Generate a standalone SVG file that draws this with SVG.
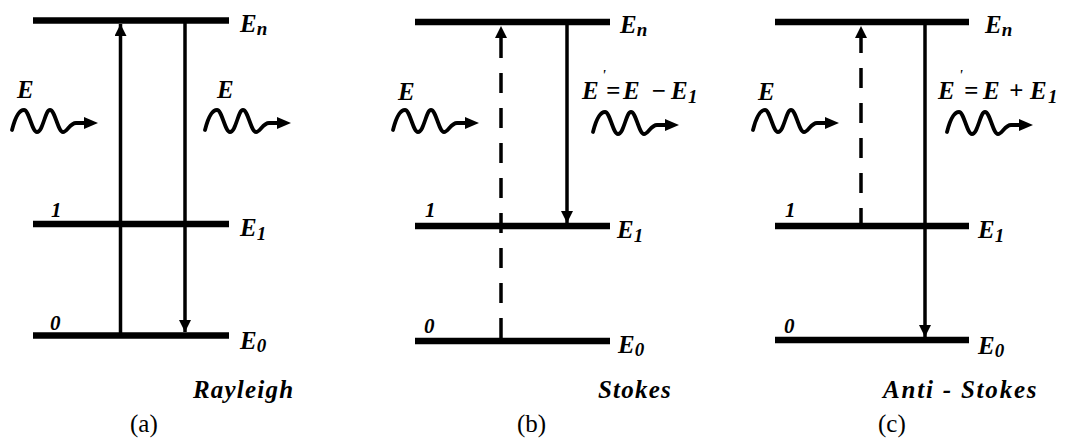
<svg xmlns="http://www.w3.org/2000/svg" width="1066" height="441" viewBox="0 0 1066 441">
<style>
.lvl{stroke:#000;stroke-width:6.5;fill:none}
.tr{stroke:#000;stroke-width:3.5;fill:none}
.dash{stroke-dasharray:20 15}
.wv{stroke:#000;stroke-width:3.8;fill:none;stroke-linecap:round}
.bi{font-family:"Liberation Serif","Times New Roman",serif;font-weight:bold;font-style:italic;font-size:25px;fill:#000}
.sub{font-size:19px}
.num{font-family:"Liberation Serif","Times New Roman",serif;font-weight:bold;font-style:italic;font-size:21px;fill:#000}
.cap{font-family:"Liberation Serif","Times New Roman",serif;font-size:25px;fill:#000}
</style>
<defs>
<marker id="ah" markerUnits="userSpaceOnUse" markerWidth="14" markerHeight="14" refX="12" refY="6" orient="auto">
<path d="M0,0 L12,6 L0,12 Z" fill="#000"/>
</marker>
<g id="wave">
<path class="wv" d="M0,7 C3,-5 7,-13 12,-13 C17,-13 20,9 25,9 C31,9 33,-13 38,-13 C43,-13 46,9 51,9 C55,9 58,0 64,0 L76,0"/>
<path d="M72,-6 L86,0 L72,6 Z" fill="#000"/>
</g>
</defs>
<rect width="1066" height="441" fill="#fff"/>

<g id="panel-a">
<g id="a-levels">
<line class="lvl" x1="33" y1="20.5" x2="229" y2="20.5"/>
<line class="lvl" x1="33" y1="224" x2="229" y2="224"/>
<line class="lvl" x1="33" y1="335.5" x2="229" y2="335.5"/>
</g>
<text class="bi" x="240" y="32">E<tspan class="sub" dy="3">n</tspan></text>
<text class="bi" x="240" y="236">E<tspan class="sub" dy="4">1</tspan></text>
<text class="bi" x="240" y="349">E<tspan class="sub" dy="3">0</tspan></text>
<text class="num" x="51" y="217">1</text>
<text class="num" x="50" y="330">0</text>
<text class="bi" x="17" y="98">E</text>
<text class="bi" x="217" y="98">E</text>
<use href="#wave" transform="translate(12,123)"/>
<use href="#wave" transform="translate(205,123)"/>
<text class="bi" x="193" y="398" letter-spacing="1.2">Rayleigh</text>
<text class="cap" x="130" y="432">(a)</text>
</g>

<g id="panel-b">
<g id="b-levels">
<line class="lvl" x1="415" y1="22" x2="610" y2="22"/>
<line class="lvl" x1="415" y1="226" x2="610" y2="226"/>
<line class="lvl" x1="415" y1="341" x2="610" y2="341"/>
</g>
<text class="bi" x="620" y="33">E<tspan class="sub" dy="3">n</tspan></text>
<text class="bi" x="617" y="238">E<tspan class="sub" dy="4">1</tspan></text>
<text class="bi" x="618" y="353">E<tspan class="sub" dy="3">0</tspan></text>
<text class="num" x="425" y="217">1</text>
<text class="num" x="424" y="333">0</text>
<text class="bi" x="398" y="100">E</text>
<text class="bi" y="99"><tspan x="582">E</tspan><tspan x="602" y="80" font-size="14">'</tspan><tspan x="606" y="99">=</tspan><tspan x="623">E</tspan><tspan x="651">−</tspan><tspan x="671">E</tspan><tspan class="sub" x="688" y="103">1</tspan></text>
<use href="#wave" transform="translate(593,125)"/>
<use href="#wave" transform="translate(393,123)"/>
<text class="bi" x="598" y="398" letter-spacing="1.2">Stokes</text>
<text class="cap" x="517" y="432">(b)</text>
</g>

<g id="panel-c">
<g id="c-levels">
<line class="lvl" x1="775" y1="22" x2="969" y2="22"/>
<line class="lvl" x1="775" y1="226" x2="969" y2="226"/>
<line class="lvl" x1="775" y1="340" x2="969" y2="340"/>
</g>
<text class="bi" x="985" y="33">E<tspan class="sub" dy="3">n</tspan></text>
<text class="bi" x="978" y="238">E<tspan class="sub" dy="4">1</tspan></text>
<text class="bi" x="978" y="354">E<tspan class="sub" dy="3">0</tspan></text>
<text class="num" x="785" y="217">1</text>
<text class="num" x="784" y="333">0</text>
<text class="bi" x="758" y="100">E</text>
<text class="bi" y="99"><tspan x="938">E</tspan><tspan x="959" y="80" font-size="14">'</tspan><tspan x="964" y="99">=</tspan><tspan x="983">E</tspan><tspan x="1009">+</tspan><tspan x="1030">E</tspan><tspan class="sub" x="1048" y="103">1</tspan></text>
<use href="#wave" transform="translate(753,123)"/>
<use href="#wave" transform="translate(947,125)"/>
<text class="bi" x="883" y="398" letter-spacing="1.8">Anti - Stokes</text>
<text class="cap" x="878" y="432">(c)</text>
</g>

<g id="connectors">
<path class="tr" d="M120.5,335 V24" marker-end="url(#ah)"/>
<path class="tr" d="M185,23 V332" marker-end="url(#ah)"/>
<path class="tr dash" d="M501,338 V26" marker-end="url(#ah)"/>
<path class="tr" d="M567,25 V223" marker-end="url(#ah)"/>
<path class="tr dash" d="M861,228 V26" marker-end="url(#ah)"/>
<path class="tr" d="M925,25 V337" marker-end="url(#ah)"/>
</g>
</svg>
